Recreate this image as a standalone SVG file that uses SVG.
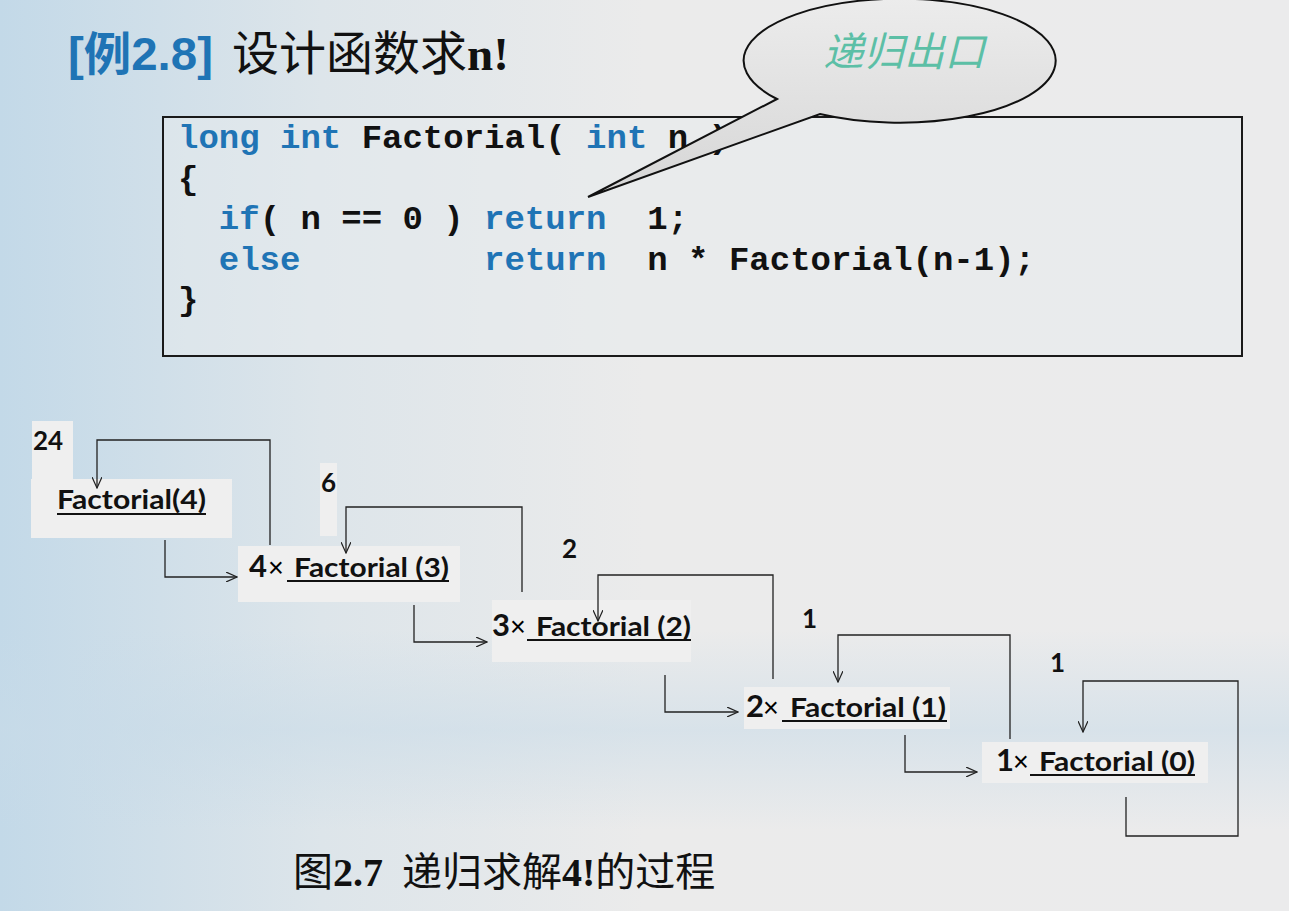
<svg xmlns="http://www.w3.org/2000/svg" width="1289" height="911" viewBox="0 0 1289 911">
<defs>
<linearGradient id="bg" x1="0" y1="0" x2="1" y2="0">
<stop offset="0" stop-color="#c3d9e8"/>
<stop offset="0.25" stop-color="#dde5ea"/>
<stop offset="0.5" stop-color="#ebebeb"/>
<stop offset="1" stop-color="#ebebec"/>
</linearGradient>
<linearGradient id="band" x1="0" y1="0" x2="0" y2="1">
<stop offset="0" stop-color="#c8dbe8" stop-opacity="0"/>
<stop offset="0.5" stop-color="#c8dbe8" stop-opacity="0.55"/>
<stop offset="1" stop-color="#c8dbe8" stop-opacity="0"/>
</linearGradient>
<linearGradient id="bubble" x1="0" y1="0" x2="0" y2="1">
<stop offset="0" stop-color="#ececec"/>
<stop offset="1" stop-color="#d6d6d6"/>
</linearGradient>
<marker id="arr" viewBox="0 0 12 10" refX="11" refY="5" markerWidth="12" markerHeight="10" markerUnits="userSpaceOnUse" orient="auto">
<path d="M0,0 L11,5 L0,10" fill="none" stroke="#222" stroke-width="1.2"/>
</marker>
<style>
.kw{fill:#1f74b5}
.code{font-family:"Liberation Mono",monospace;font-weight:bold;font-size:34px;fill:#111;white-space:pre}
.lab{font-family:"Lato","Open Sans",sans-serif;font-weight:bold;fill:#111}
.fx{font-size:26px}
.big{font-size:31px}
.times{font-family:"Liberation Sans",sans-serif;font-weight:normal;font-size:27px}
.ln{fill:none;stroke:#222;stroke-width:1.3}
.ul{stroke:#111;stroke-width:2}
.box{fill:#efefef}
</style>
</defs>
<rect x="0" y="0" width="1289" height="911" fill="url(#bg)"/>
<rect x="0" y="630" width="1289" height="200" fill="url(#band)"/>

<g id="title">
<text x="68" y="70" font-family="Liberation Sans,Noto Sans CJK SC,sans-serif" font-weight="bold" font-size="46" fill="#1f74b5" textLength="145" lengthAdjust="spacingAndGlyphs">[例2.8]</text>
<text x="232" y="70" font-family="Liberation Serif,Noto Sans CJK SC,serif" font-size="47" fill="#111">设计函数求<tspan font-weight="bold">n!</tspan></text>
</g>

<g id="code-box">
<rect x="163" y="117" width="1079" height="239" fill="#e8ecee" fill-opacity="0.5" stroke="#1a1a1a" stroke-width="2"/>
<text class="code" x="178" y="148" xml:space="preserve"><tspan class="kw">long int</tspan> Factorial( <tspan class="kw">int</tspan> n )</text>
<text class="code" x="178" y="189">{</text>
<text class="code" x="178" y="229" xml:space="preserve">  <tspan class="kw">if</tspan>( n == 0 ) <tspan class="kw">return</tspan>  1;</text>
<text class="code" x="178" y="270" xml:space="preserve">  <tspan class="kw">else</tspan>         <tspan class="kw">return</tspan>  n * Factorial(n-1);</text>
<text class="code" x="178" y="310">}</text>
</g>

<g id="callout">
<path d="M777,99 L588,197 L820,114 A156 62 0 1 0 777,99 Z" fill="url(#bubble)" stroke="#111" stroke-width="2"/>
<text x="904" y="66" text-anchor="middle" font-family="Noto Sans CJK SC,sans-serif" font-style="italic" font-size="40" fill="#5cbfa6" textLength="162" lengthAdjust="spacingAndGlyphs">递归出口</text>
</g>

<g id="node-f4">
<rect class="box" x="32" y="421" width="41" height="58"/>
<rect class="box" x="31" y="479" width="201" height="59"/>
<text class="lab fx" x="33" y="450">24</text>
<text class="lab fx" x="57" y="509" textLength="149" lengthAdjust="spacingAndGlyphs">Factorial(4)</text>
<line class="ul" x1="57" y1="514" x2="206" y2="514"/>
</g>

<g id="node-f3">
<rect class="box" x="320" y="463" width="17" height="73"/>
<rect class="box" x="238" y="546" width="222" height="56"/>
<text class="lab fx" x="321" y="492">6</text>
<text class="lab big" x="249" y="577">4</text>
<text class="times" x="268" y="577">×</text>
<text class="lab fx" x="294" y="577" textLength="155" lengthAdjust="spacingAndGlyphs">Factorial (3)</text>
<line class="ul" x1="287" y1="581" x2="449" y2="581"/>
</g>

<g id="node-f2">
<rect class="box" x="492" y="600" width="199" height="62"/>
<text class="lab fx" x="562" y="558">2</text>
<text class="lab big" x="492" y="636">3</text>
<text class="times" x="510" y="636">×</text>
<text class="lab fx" x="536" y="636" textLength="155" lengthAdjust="spacingAndGlyphs">Factorial (2)</text>
<line class="ul" x1="527" y1="640" x2="691" y2="640"/>
</g>

<g id="node-f1">
<rect class="box" x="744" y="687" width="206" height="42"/>
<text class="lab fx" x="802" y="628">1</text>
<text class="lab big" x="746" y="717">2</text>
<text class="times" x="763" y="717">×</text>
<text class="lab fx" x="790" y="717" textLength="156" lengthAdjust="spacingAndGlyphs">Factorial (1)</text>
<line class="ul" x1="782" y1="721" x2="947" y2="721"/>
</g>

<g id="node-f0">
<rect class="box" x="982" y="742" width="226" height="41"/>
<text class="lab fx" x="1050" y="672">1</text>
<text class="lab big" x="996" y="771">1</text>
<text class="times" x="1013" y="771">×</text>
<text class="lab fx" x="1039" y="771" textLength="156" lengthAdjust="spacingAndGlyphs">Factorial (0)</text>
<line class="ul" x1="1030" y1="775" x2="1195" y2="775"/>
</g>

<g id="connectors">
<path class="ln" d="M165,540 V577 H237" marker-end="url(#arr)"/>
<path class="ln" d="M270,545 V440 H97 V488" marker-end="url(#arr)"/>
<path class="ln" d="M414,605 V642 H487" marker-end="url(#arr)"/>
<path class="ln" d="M522,592 V507 H346 V553" marker-end="url(#arr)"/>
<path class="ln" d="M665,675 V712 H738" marker-end="url(#arr)"/>
<path class="ln" d="M773,679 V575 H598 V621" marker-end="url(#arr)"/>
<path class="ln" d="M905,735 V772 H977" marker-end="url(#arr)"/>
<path class="ln" d="M1010,739 V635 H838 V682" marker-end="url(#arr)"/>
<path class="ln" d="M1126,797 V836 H1238 V681 H1083 V732" marker-end="url(#arr)"/>
</g>

<g id="caption">
<text x="293" y="886" font-family="Liberation Serif,Noto Sans CJK SC,serif" font-size="40" fill="#111">图<tspan font-weight="bold">2.7</tspan><tspan x="402">递归求解</tspan><tspan font-weight="bold">4!</tspan>的过程</text>
</g>
</svg>
